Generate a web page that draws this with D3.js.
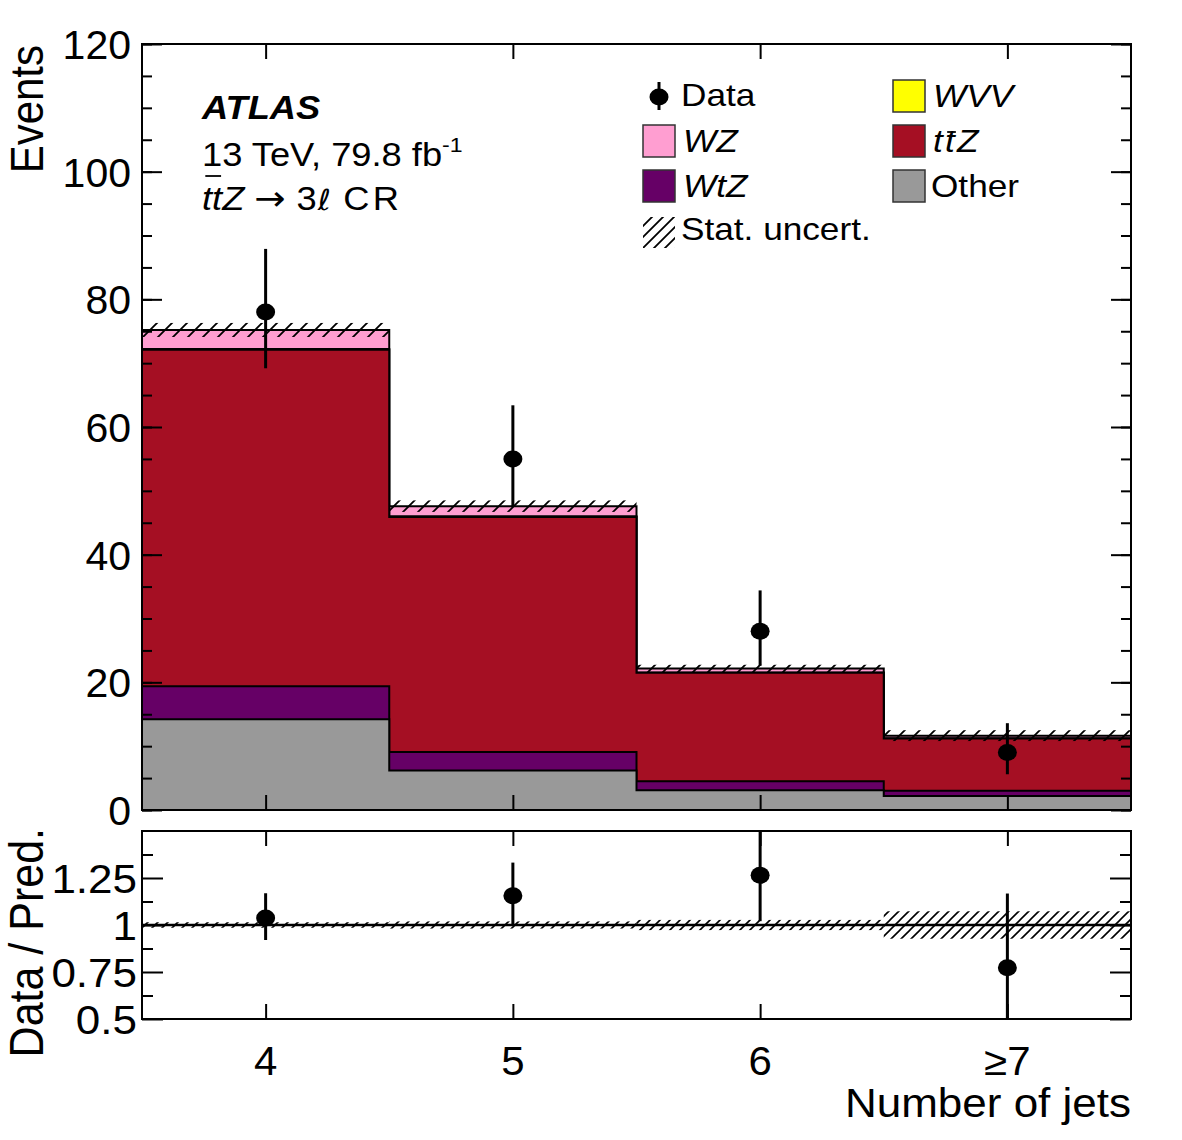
<!DOCTYPE html>
<html>
<head>
<meta charset="utf-8">
<script src="https://cdn.jsdelivr.net/npm/d3@7"></script>
<style>
  html, body { margin: 0; padding: 0; background: #fff; }
  svg text { font-family: "Liberation Sans", Arial, Helvetica, sans-serif; fill: #000; }
</style>
</head>
<body>
<svg id="chart" width="1182" height="1140"></svg>
<script>
// ---------------- DATA ----------------
const categories = ["4", "5", "6", "\u22657"];
const binCenters = [4, 5, 6, 7];
const binEdges = [3.5, 4.5, 5.5, 6.5, 7.5];

const other = [14.2, 6.2, 3.1, 2.2];
const wtz   = [5.2, 2.9, 1.4, 0.8];
const ttz   = [52.7, 36.8, 17.0, 8.2];
const wvv   = [0.1, 0.1, 0.05, 0.05];
const wz    = [3.0, 1.6, 0.6, 0.4];
const statUnc = [1.1, 0.9, 0.6, 0.85];

const dataVals   = [78, 55, 28, 9];
const dataErrUp  = [9.9, 8.4, 6.4, 4.6];
const dataErrDn  = [8.8, 7.4, 5.4, 3.4];

const yTicksMain = [0, 20, 40, 60, 80, 100, 120];
const yMinorMain = d3.range(0, 121, 5);
const yTicksRatio = [0.5, 0.75, 1, 1.25];
const yTickLabelsRatio = ["0.5", "0.75", "1", "1.25"];
const yMinorRatio = [0.625, 0.875, 1.125, 1.375];

const sampleKeys = ["other", "wtz", "ttz", "wvv", "wz"];
const sampleColors = { other: "#999999", wtz: "#660066", ttz: "#a50f23", wvv: "#ffff00", wz: "#ff9ed1" };

// ---------------- SETUP ----------------
const svg = d3.select("#chart");
const L = 142, R = 1131, T = 44, B = 810, RT = 831, RB = 1019;

const x = d3.scaleLinear().domain([3.5, 7.5]).range([L, R]);
const y = d3.scaleLinear().domain([0, 120]).range([B, T]);
const yr = d3.scaleLinear().domain([0.5, 1.5]).range([RB, RT]);

const defs = svg.append("defs");
function hatchPattern(id, s, w) {
  const p = defs.append("pattern").attr("id", id).attr("patternUnits", "userSpaceOnUse")
    .attr("width", s).attr("height", s);
  p.append("path").attr("d", `M0,${s} L${s},0 M${-s/2},${s/2} L${s/2},${-s/2} M${s/2},${s*1.5} L${s*1.5},${s/2}`)
    .attr("stroke", "#000").attr("stroke-width", w).attr("fill", "none");
}
hatchPattern("hatchMain", 15, 1.8);
hatchPattern("hatchRatio", 10, 1.6);
hatchPattern("hatchLeg", 11, 1.8);
defs.append("clipPath").attr("id", "clipRatio").append("rect")
  .attr("x", L).attr("y", RT).attr("width", R - L).attr("height", RB - RT);
defs.append("clipPath").attr("id", "clipMain").append("rect")
  .attr("x", L).attr("y", T).attr("width", R - L).attr("height", B - T);

function stext(parent, px, py, size, anchor, rotate, sx) {
  const s = sx || 1.1;
  const g = parent.append("g").attr("transform", `translate(${px},${py}) scale(${s},1)` + (rotate ? " rotate(-90)" : ""));
  const t = g.append("text").attr("font-size", size).attr("text-anchor", anchor || "start");
  return { g, t };
}

// ---------------- STACK ----------------
const rows = categories.map((c, i) => ({ cat: c, other: other[i], wtz: wtz[i], ttz: ttz[i], wvv: wvv[i], wz: wz[i] }));
const stack = d3.stack().keys(sampleKeys)(rows);
const totals = rows.map((r, i) => stack[stack.length - 1][i][1]);

const stepPts = vals => binEdges.map((e, i) => ({ x: e, v: vals[Math.min(i, vals.length - 1)] }));
const area = d3.area().x(d => x(d.x)).y0(y(0)).y1(d => y(d.v)).curve(d3.curveStepAfter);
const line = d3.line().x(d => x(d.x)).y(d => y(d.v)).curve(d3.curveStepAfter);

const main = svg.append("g").attr("clip-path", "url(#clipMain)");
for (let k = stack.length - 1; k >= 0; k--) {
  const tops = stack[k].map(d => d[1]);
  const pts = stepPts(tops);
  main.append("path").attr("d", area(pts)).attr("fill", sampleColors[stack[k].key]);
  main.append("path").attr("d", line(pts)).attr("fill", "none").attr("stroke", "#000").attr("stroke-width", 2);
}
// stat uncertainty band
main.selectAll("rect.hatch").data(totals).enter().append("rect")
  .attr("x", (d, i) => x(binEdges[i])).attr("width", (d, i) => x(binEdges[i + 1]) - x(binEdges[i]))
  .attr("y", (d, i) => y(d + statUnc[i])).attr("height", (d, i) => y(d - statUnc[i]) - y(d + statUnc[i]))
  .attr("fill", "url(#hatchMain)");

// data points
const dg = svg.append("g");
dg.selectAll("line.err").data(dataVals).enter().append("line")
  .attr("x1", (d, i) => x(binCenters[i])).attr("x2", (d, i) => x(binCenters[i]))
  .attr("y1", (d, i) => y(d + dataErrUp[i])).attr("y2", (d, i) => y(d - dataErrDn[i]))
  .attr("stroke", "#000").attr("stroke-width", 3);
dg.selectAll("ellipse").data(dataVals).enter().append("ellipse")
  .attr("cx", (d, i) => x(binCenters[i])).attr("cy", d => y(d)).attr("rx", 9.5).attr("ry", 8.5).attr("fill", "#000");

// frame and axes (main)
svg.append("rect").attr("x", L).attr("y", T).attr("width", R - L).attr("height", B - T)
  .attr("fill", "none").attr("stroke", "#000").attr("stroke-width", 2);

function axisG(gen, tx, ty) {
  const g = svg.append("g").attr("transform", `translate(${tx},${ty})`).call(gen);
  g.select(".domain").remove();
  g.selectAll("text").remove();
  g.selectAll("line").attr("stroke", "#000").attr("stroke-width", 2);
  return g;
}
axisG(d3.axisRight(y).tickValues(yTicksMain).tickSize(20), L, 0);
axisG(d3.axisRight(y).tickValues(yMinorMain).tickSize(10), L, 0);
axisG(d3.axisLeft(y).tickValues(yTicksMain).tickSize(20), R, 0);
axisG(d3.axisLeft(y).tickValues(yMinorMain).tickSize(10), R, 0);
axisG(d3.axisTop(x).tickValues(binCenters).tickSize(15), 0, B);
axisG(d3.axisBottom(x).tickValues(binCenters).tickSize(15), 0, T);

yTicksMain.forEach(v => { stext(svg, 131, y(v) + 15, 41, "end", false, 1.0).t.text(v); });
stext(svg, 43, 45, 42, "end", true).t.text("Events");

// ---------------- RATIO ----------------
const rg = svg.append("g").attr("clip-path", "url(#clipRatio)");
rg.selectAll("rect.rh").data(totals).enter().append("rect")
  .attr("x", (d, i) => x(binEdges[i])).attr("width", (d, i) => x(binEdges[i + 1]) - x(binEdges[i]))
  .attr("y", (d, i) => yr(1 + statUnc[i] / d)).attr("height", (d, i) => yr(1 - statUnc[i] / d) - yr(1 + statUnc[i] / d))
  .attr("fill", "url(#hatchRatio)");
rg.append("line").attr("x1", L).attr("x2", R).attr("y1", yr(1)).attr("y2", yr(1))
  .attr("stroke", "#000").attr("stroke-width", 2.6);
rg.selectAll("line.rerr").data(dataVals).enter().append("line")
  .attr("x1", (d, i) => x(binCenters[i])).attr("x2", (d, i) => x(binCenters[i]))
  .attr("y1", (d, i) => yr((d + dataErrUp[i]) / totals[i])).attr("y2", (d, i) => yr((d - dataErrDn[i]) / totals[i]))
  .attr("stroke", "#000").attr("stroke-width", 3);
rg.selectAll("ellipse").data(dataVals).enter().append("ellipse")
  .attr("cx", (d, i) => x(binCenters[i])).attr("cy", (d, i) => yr(d / totals[i])).attr("rx", 9.5).attr("ry", 8.5).attr("fill", "#000");

svg.append("rect").attr("x", L).attr("y", RT).attr("width", R - L).attr("height", RB - RT)
  .attr("fill", "none").attr("stroke", "#000").attr("stroke-width", 2);
axisG(d3.axisRight(yr).tickValues(yTicksRatio).tickSize(21), L, 0);
axisG(d3.axisRight(yr).tickValues(yMinorRatio).tickSize(11), L, 0);
axisG(d3.axisLeft(yr).tickValues(yTicksRatio).tickSize(21), R, 0);
axisG(d3.axisLeft(yr).tickValues(yMinorRatio).tickSize(11), R, 0);
axisG(d3.axisTop(x).tickValues(binCenters).tickSize(15), 0, RB);
axisG(d3.axisBottom(x).tickValues(binCenters).tickSize(15), 0, RT);

yTicksRatio.forEach((v, i) => { stext(svg, 137, yr(v) + 15, 40, "end").t.text(yTickLabelsRatio[i]); });
stext(svg, 43, 828, 43, "end", true).t.text("Data / Pred.");

categories.forEach((c, i) => { stext(svg, x(binCenters[i]), 1075, 40, "middle", false, 1.05).t.text(c); });
stext(svg, 1131, 1117, 40, "end", false, 1.1).t.text("Number of jets");

// ---------------- LABELS ----------------
stext(svg, 202, 119, 33).t.attr("font-weight", "bold").attr("font-style", "italic").text("ATLAS");
const lum = stext(svg, 202, 166, 33).t;
lum.append("tspan").text("13 TeV, 79.8 fb");
lum.append("tspan").attr("font-size", 21).attr("dy", -14).text("-1");
const reg = stext(svg, 202, 210, 33);
reg.t.append("tspan").attr("font-style", "italic").text("ttZ");
reg.t.append("tspan").attr("dx", 9).attr("font-family", "DejaVu Sans, sans-serif").attr("font-size", 34).text("\u2192");
reg.t.append("tspan").attr("dx", 10).text("3");
reg.t.append("tspan").attr("dx", 1).attr("font-style", "italic").attr("font-family", "DejaVu Sans, sans-serif").attr("font-size", 29).text("\u2113");
reg.t.append("tspan").attr("dx", 11).text("C");
reg.t.append("tspan").attr("dx", 3).text("R");
{
  const e0 = reg.t.node().getExtentOfChar(0), e1 = reg.t.node().getExtentOfChar(1);
  reg.g.append("line").attr("x1", e0.x + 3).attr("x2", e1.x + e1.width - 1).attr("y1", -34).attr("y2", -34)
    .attr("stroke", "#000").attr("stroke-width", 1.8);
}

// ---------------- LEGEND ----------------
const leg = svg.append("g");
// Data
leg.append("line").attr("x1", 659).attr("x2", 659).attr("y1", 82).attr("y2", 110).attr("stroke", "#000").attr("stroke-width", 3);
leg.append("ellipse").attr("cx", 659).attr("cy", 97).attr("rx", 9.5).attr("ry", 8.5).attr("fill", "#000");
stext(leg, 681, 106, 32).t.text("Data");

const legendItems = [
  { key: "wvv", label: "WVV", italic: true, col: 1, row: 0 },
  { key: "wz", label: "WZ", italic: true, col: 0, row: 1 },
  { key: "ttz", label: "ttZ", italic: true, col: 1, row: 1, bar: true },
  { key: "wtz", label: "WtZ", italic: true, col: 0, row: 2 },
  { key: "other", label: "Other", italic: false, col: 1, row: 2 }
];
const colX = [643, 893], rowY = [80, 125, 170];
legendItems.forEach(it => {
  const bx = colX[it.col], by = rowY[it.row];
  leg.append("rect").attr("x", bx).attr("y", by).attr("width", 32).attr("height", 32)
    .attr("fill", sampleColors[it.key]).attr("stroke", "#333").attr("stroke-width", 1.5);
  const tx = stext(leg, bx + 38 + (it.italic ? 2 : 0), by + 27, 32);
  tx.t.attr("font-style", it.italic ? "italic" : "normal");
  if (it.bar) {
    tx.t.append("tspan").text("t");
    tx.t.append("tspan").attr("dx", 2).text("t");
    tx.t.append("tspan").attr("dx", 2).text("Z");
    const e1 = tx.t.node().getExtentOfChar(1);
    tx.g.append("line").attr("x1", e1.x + 2).attr("x2", e1.x + e1.width + 1).attr("y1", -20).attr("y2", -20)
      .attr("stroke", "#000").attr("stroke-width", 1.8);
  } else {
    tx.t.text(it.label);
  }
});
leg.append("rect").attr("x", 643).attr("y", 217).attr("width", 32).attr("height", 31).attr("fill", "url(#hatchLeg)");
stext(leg, 681, 240, 32).t.text("Stat. uncert.");
</script>
</body>
</html>
